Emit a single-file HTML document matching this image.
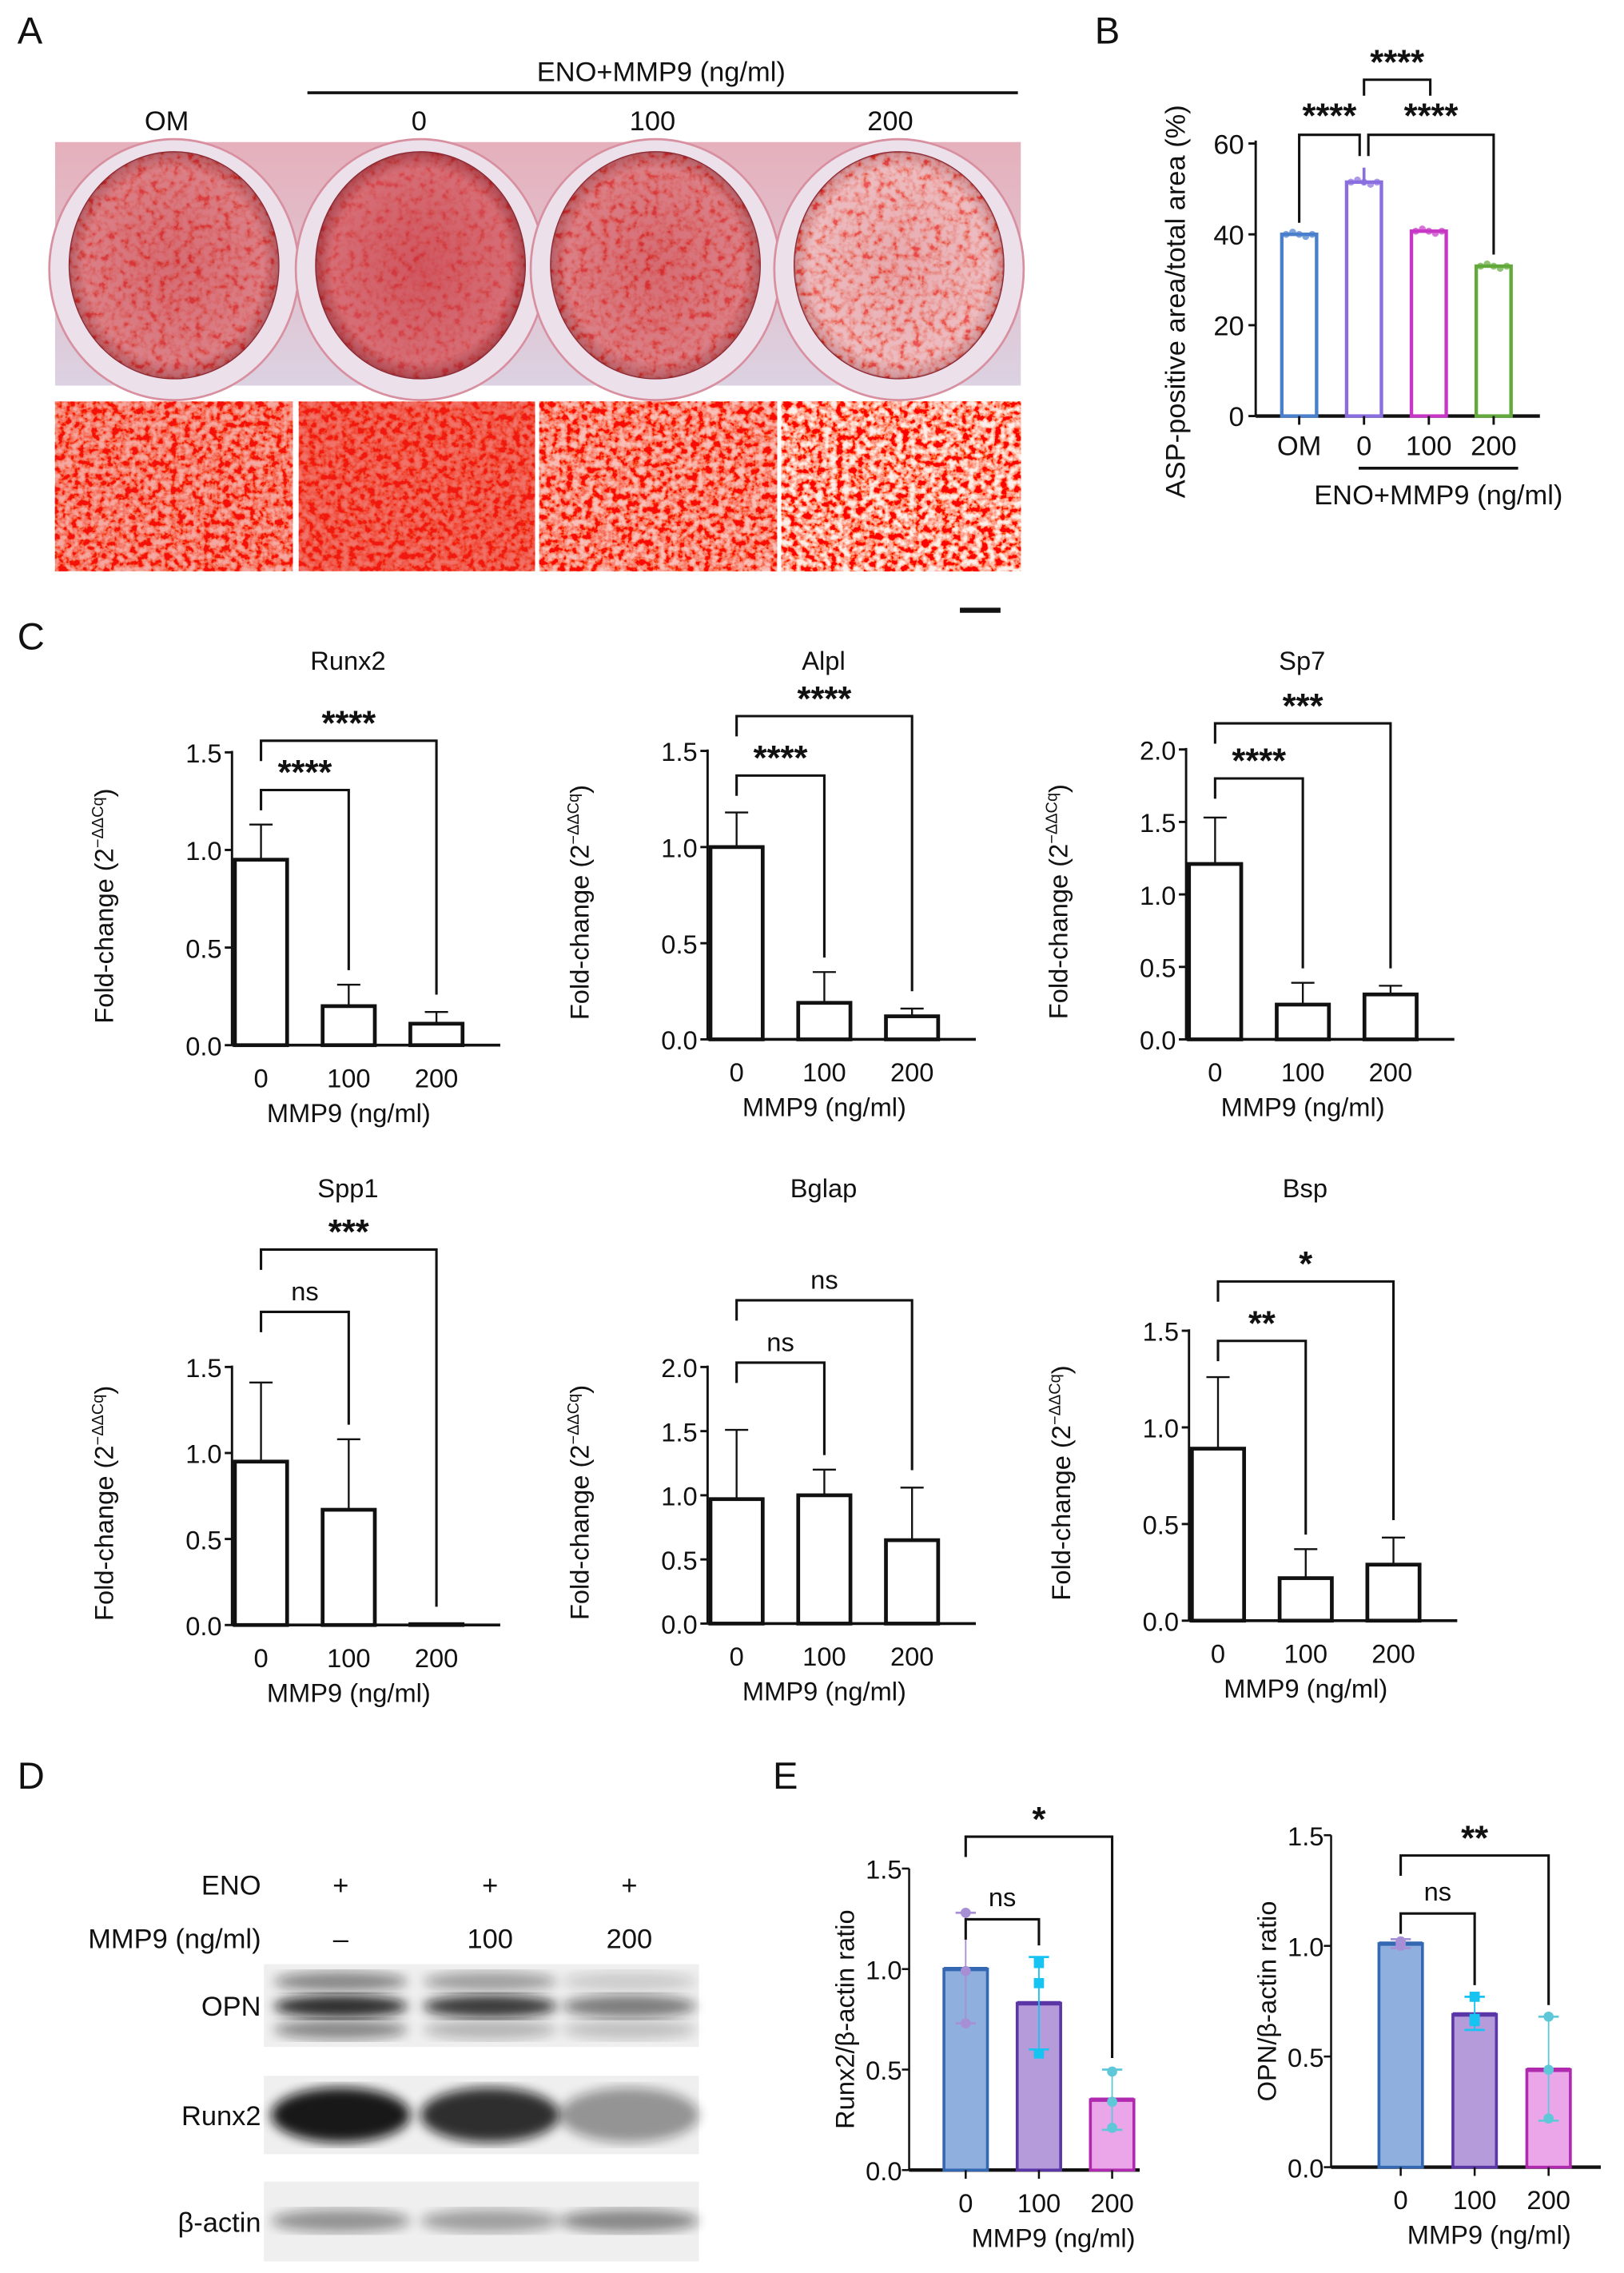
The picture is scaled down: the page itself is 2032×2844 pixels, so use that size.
<!DOCTYPE html>
<html><head><meta charset="utf-8">
<style>
html,body{margin:0;padding:0;background:#fff;}
svg{display:block;}
text{font-family:"Liberation Sans",sans-serif;fill:#111;}
</style></head>
<body>
<svg id="fig" xmlns="http://www.w3.org/2000/svg" width="2032" height="2844" viewBox="0 0 1120 1568" preserveAspectRatio="none">
<defs>
<filter id="stain" x="0" y="0" width="100%" height="100%" filterUnits="objectBoundingBox">
<feTurbulence type="fractalNoise" baseFrequency="0.22" numOctaves="3" seed="3" result="n"/>
<feColorMatrix type="matrix" values="0 0 0 0 1  0 -3 0 0 1.9  0 -3 0 0 1.8  0 0 0 0 1" in="n"/>
</filter>
<filter id="stain2" x="-20%" y="-20%" width="140%" height="140%">
<feTurbulence type="fractalNoise" baseFrequency="0.2" numOctaves="3" seed="7" result="n"/>
<feColorMatrix type="matrix" values="0 0 0 0 1  0 -3 0 0 2.2  0 -3 0 0 2.1  0 0 0 0 1" in="n"/>
</filter>
<filter id="blur2"><feGaussianBlur stdDeviation="4"/></filter>
<radialGradient id="wellg" cx="50%" cy="50%" r="50%"><stop offset="0" stop-color="#c83a45"/><stop offset="0.85" stop-color="#cf5560"/><stop offset="1" stop-color="#a02a35"/></radialGradient>
<radialGradient id="wellg4" cx="50%" cy="50%" r="50%"><stop offset="0" stop-color="#d8707a"/><stop offset="0.85" stop-color="#e0909a"/><stop offset="1" stop-color="#b04a55"/></radialGradient>
<linearGradient id="plateg" x1="0" y1="0" x2="0" y2="1"><stop offset="0" stop-color="#e5b0bb"/><stop offset="1" stop-color="#dcd2e2"/></linearGradient>
<clipPath id="cw0"><ellipse cx="120" cy="183" rx="72" ry="78"/></clipPath>
<clipPath id="cw1"><ellipse cx="290" cy="183" rx="72" ry="78"/></clipPath>
<clipPath id="cw2"><ellipse cx="452" cy="183" rx="72" ry="78"/></clipPath>
<clipPath id="cw3"><ellipse cx="620" cy="183" rx="72" ry="78"/></clipPath>
</defs>
<g id="root"></g>
</svg>
<script>
// ===== Data arrays =====
const bCategories = ["OM","0","100","200"];
const bValues = [40, 51.5, 40.7, 33];
const bTicks = [0,20,40,60];

const cCategories = ["0","100","200"];
const runx2Vals = [0.95, 0.20, 0.11];
const runx2Err  = [0.18, 0.11, 0.06];
const alplVals  = [1.00, 0.19, 0.12];
const alplErr   = [0.18, 0.16, 0.04];
const sp7Vals   = [1.21, 0.24, 0.31];
const sp7Err    = [0.32, 0.15, 0.06];
const spp1Vals  = [0.95, 0.67, 0.005];
const spp1Err   = [0.46, 0.41, 0];
const bglapVals = [0.97, 1.00, 0.65];
const bglapErr  = [0.54, 0.20, 0.41];
const bspVals   = [0.89, 0.22, 0.29];
const bspErr    = [0.37, 0.15, 0.14];
const ticks15 = [0, 0.5, 1.0, 1.5];
const ticks20 = [0, 0.5, 1.0, 1.5, 2.0];

const eRunx2Means = [1.00, 0.83, 0.35];
const eRunx2Pts = [[1.28, 0.99, 0.73],[1.03, 0.93, 0.58],[0.49, 0.34, 0.21]];
const eRunx2Lo = [0.73, 0.60, 0.20];
const eRunx2Hi = [1.28, 1.06, 0.50];
const eOpnMeans = [1.01, 0.69, 0.44];
const eOpnPts = [[1.02, 1.00, 1.01],[0.77, 0.67, 0.66],[0.68, 0.44, 0.22]];
const eOpnLo = [0.99, 0.62, 0.21];
const eOpnHi = [1.03, 0.77, 0.68];

// ===== helpers =====
const NS = "http://www.w3.org/2000/svg";
const root = document.getElementById("root");
function mk(tag, attrs, parent){
  const e = document.createElementNS(NS, tag);
  for (const k in attrs) e.setAttribute(k, attrs[k]);
  (parent||root).appendChild(e);
  return e;
}
function txt(x,y,s,size,anchor,parent,extra){
  const t = mk("text", Object.assign({x:x,y:y,"font-size":size,"text-anchor":anchor||"middle"}, extra||{}), parent);
  t.textContent = s;
  return t;
}
function line(x1,y1,x2,y2,w,col,parent){
  return mk("line",{x1:x1,y1:y1,x2:x2,y2:y2,stroke:col||"#111","stroke-width":w||1.6},parent);
}
function bracket(g,xa,xb,y,ya,yb,label,ly,size){
  const p = mk("path",{d:`M${xa},${ya} V${y} H${xb} V${yb}`,fill:"none",stroke:"#111","stroke-width":1.7},g);
  
  
  const t = txt((xa+xb)/2, ly + (label==="ns"?0:4), label, label==="ns"?18:24, "middle", g, label==="ns"?{}:{"font-weight":"bold"});
  
  
}

// ===== Panel letters =====
[["A",12,30],["B",755,30],["C",12,448],["D",12,1234],["E",533,1234]].forEach(function(a){
  const t = txt(a[1],a[2],a[0],26,"start");
  
  
});

// ===== Panel A =====
(function(){
  const g = mk("g",{});
  
  
  let t = txt(456,56,"ENO+MMP9 (ng/ml)",19,"middle",g);
  
  
  const ln = line(212,64,702,64,2,"#111",g);
  
  
  [["OM",115],["0",289],["100",450],["200",614]].forEach(function(c){
    const tt = txt(c[1],90,c[0],19,"middle",g);
    
    
  });
  const plate = mk("rect",{x:38,y:98,width:666,height:168,fill:"url(#plateg)"},g);
  
  
  const cx=[120,290,452,620];
  cx.forEach(function(x,i){
    const rim = mk("ellipse",{cx:x,cy:186,rx:86,ry:90,fill:"#ece0ea",stroke:"#d890a0","stroke-width":1.5},g);
    
    
  });
  cx.forEach(function(x,i){
    const w = mk("ellipse",{cx:x,cy:183,rx:72,ry:78,fill:i===3?"url(#wellg4)":"url(#wellg)",stroke:"#902833","stroke-width":1.4},g);
    
    
    const n = mk("rect",{x:x-74,y:103,width:148,height:160,fill:"#fff",filter:"url(#stain2)",opacity:i===3?0.4:(i===1?0.15:0.25),"clip-path":"url(#cw"+i+")"},g);
    
    
  });
  const px=[38,206,372,539], pw=[164,163,164,165];
  const ops=[0.6,0.35,0.7,0.92];
  px.forEach(function(x,i){
    const r = mk("rect",{x:x,y:277,width:pw[i],height:117,fill:"#e8261a"},g);
    
    
    const s = mk("rect",{x:x,y:277,width:pw[i],height:117,fill:"#fff",filter:"url(#stain)",opacity:ops[i]},g);
    
    
  });
  const sb = line(662,421,690,421,3.5,"#111",g);
  
  
})();

// ===== Panel B =====
(function(){
  const g = mk("g",{});
  
  
  const ax=866, y0=287, y60=99, xEnd=1062;
  const ys = v => y0 - (v/60)*(y0-y60);
  const xs = i => 896 + i*44.7;
  const cols=["#4a7fcc","#8a6ee0","#c637c6","#62a83a"];
  const ya = line(ax,y60-2,ax,y0,1.6,"#111",g);
  
  
  const xa = line(ax,y0,xEnd,y0,2.4,"#111",g);
  
  
  bTicks.forEach(function(v){
    const tk = line(ax-5,ys(v),ax,ys(v),1.6,"#111",g);
    
    
    const tl = txt(ax-8,ys(v)+7,String(v),19,"end",g);
    
    
  });
  bValues.forEach(function(v,i){
    const b = mk("rect",{x:xs(i)-12,y:ys(v),width:24,height:y0-ys(v),fill:"#fff",stroke:cols[i],"stroke-width":2.4},g);
    
    
    for(let k=-2;k<=2;k++){
      const d = mk("circle",{cx:xs(i)+k*4.5,cy:ys(v)+(k%2)*1.5,r:2.4,fill:cols[i],opacity:0.7},g);
      
      
    }
    const xt = line(xs(i),y0,xs(i),y0+6,1.6,"#111",g);
    
    
    const xl = txt(xs(i),y0+27,bCategories[i],19,"middle",g);
    
    
  });
  const eb = line(xs(1),ys(bValues[1])-10,xs(1),ys(bValues[1])+2,2,cols[1],g);
  
  
  const gl = line(937,323,1047,323,2,"#111",g);
  
  
  const gt = txt(992,348,"ENO+MMP9 (ng/ml)",19,"middle",g);
  
  
  const yt = txt(0,0,"ASP-positive area/total area (%)",19,"middle",g,{transform:"translate(817,208) rotate(-90)"});
  
  
  bracket(g,xs(0),xs(1)-3,93,ys(bValues[0])-8,ys(bValues[1])-18,"****",84,20);
  bracket(g,xs(1)+3,xs(3),93,ys(bValues[1])-18,ys(bValues[3])-8,"****",84,20);
  bracket(g,xs(1),xs(2)+1,55,66,66,"****",47,20);
})();

// ===== Panel C =====
function cChart(o){
  const g = mk("g",{});
  
  
  const ys = v => o.y0 - (v/o.max)*(o.y0-o.yTop);
  const xs = i => o.ax + 20 + i*60.5;
  const tt = txt(o.ax+80,o.titleY,o.name,18,"middle",g);
  
  
  const ya = line(o.ax,o.yTop-1,o.ax,o.y0,1.6,"#111",g);
  
  
  const xa = line(o.ax,o.y0,o.ax+185,o.y0,2,"#111",g);
  
  
  o.ticks.forEach(function(v){
    const tk = line(o.ax-5,ys(v),o.ax,ys(v),1.6,"#111",g);
    
    
    const tl = txt(o.ax-7,ys(v)+7,v.toFixed(1),18,"end",g);
    
    
  });
  o.vals.forEach(function(v,i){
    const x = xs(i);
    if (o.err[i]>0){
      const e1 = line(x,ys(v+o.err[i]),x,ys(v),1.3,"#111",g);
      
      
      const e2 = line(x-8,ys(v+o.err[i]),x+8,ys(v+o.err[i]),1.3,"#111",g);
      
      
    }
    const b = mk("rect",{x:x-18,y:ys(v),width:36,height:Math.max(0.5,o.y0-ys(v)),fill:"#fff",stroke:"#111","stroke-width":2.6},g);
    
    
    const xl = txt(x,o.y0+29,cCategories[i],18,"middle",g);
    
    
  });
  const xt = txt(xs(1),o.y0+53,"MMP9 (ng/ml)",18,"middle",g);
  
  
  const yt = mk("text",{"font-size":18,"text-anchor":"middle",transform:`translate(${o.ax-82},${(o.yTop+o.y0)/2+5}) rotate(-90)`},g);
  yt.innerHTML = 'Fold-change (2<tspan font-size="11" dy="-7">−ΔΔCq</tspan><tspan dy="7">)</tspan>';
  
  
  bracket(g,xs(0),xs(1),o.inY,o.inY+14,ys(o.vals[1]+o.err[1])-10,o.inL,o.inY-8);
  bracket(g,xs(0),xs(2),o.outY,o.outY+14,ys(o.vals[2]+o.err[2])-12,o.outL,o.outY-8);
}
cChart({name:"Runx2",ax:160,yTop:519,y0:721,max:1.5,ticks:ticks15,vals:runx2Vals,err:runx2Err,titleY:462,inY:545,inL:"****",outY:511,outL:"****"});
cChart({name:"Alpl",ax:488,yTop:518,y0:717,max:1.5,ticks:ticks15,vals:alplVals,err:alplErr,titleY:462,inY:535,inL:"****",outY:494,outL:"****"});
cChart({name:"Sp7",ax:818,yTop:517,y0:717,max:2.0,ticks:ticks20,vals:sp7Vals,err:sp7Err,titleY:462,inY:537,inL:"****",outY:499,outL:"***"});
cChart({name:"Spp1",ax:160,yTop:943,y0:1121,max:1.5,ticks:ticks15,vals:spp1Vals,err:spp1Err,titleY:826,inY:905,inL:"ns",outY:862,outL:"***"});
cChart({name:"Bglap",ax:488,yTop:943,y0:1120,max:2.0,ticks:ticks20,vals:bglapVals,err:bglapErr,titleY:826,inY:940,inL:"ns",outY:897,outL:"ns"});
cChart({name:"Bsp",ax:820,yTop:918,y0:1118,max:1.5,ticks:ticks15,vals:bspVals,err:bspErr,titleY:826,inY:925,inL:"**",outY:884,outL:"*"});

// ===== Panel D (western blot) =====
(function(){
  const g = mk("g",{});
  
  
  const lanes=[235,338,434];
  let t = txt(180,1307,"ENO",19,"end",g);
  
  
  t = txt(180,1344,"MMP9 (ng/ml)",19,"end",g);
  
  
  ["–","100","200"].forEach(function(s,i){
    const a = txt(lanes[i],1307,"+",19,"middle",g);
    
    
    const b = txt(lanes[i],1344,s,19,"middle",g);
    
    
  });
  const blots=[["OPN",1355,57],["Runx2",1432,54],["β-actin",1505,55]];
  blots.forEach(function(bl){
    const r = mk("rect",{x:182,y:bl[1],width:300,height:bl[2],fill:"#efefef"},g);
    
    
    const l = txt(180,bl[1]+bl[2]/2+7,bl[0],19,"end",g);
    
    
  });
  // OPN: three bands per lane
  const opnOps=[[0.45,0.85,0.45],[0.35,0.8,0.25],[0.15,0.5,0.2]];
  lanes.forEach(function(x,i){
    [1367,1384,1400].forEach(function(y,k){
      const b = mk("ellipse",{cx:x,cy:y,rx:46,ry:k===1?8:7,fill:"#111",opacity:opnOps[i][k],filter:"url(#blur2)"},g);
      
      
    });
  });
  const rOps=[0.95,0.85,0.4];
  lanes.forEach(function(x,i){
    const b = mk("ellipse",{cx:x,cy:1459,rx:48,ry:19,fill:"#111",opacity:rOps[i],filter:"url(#blur2)"},g);
    
    
  });
  const aOps=[0.4,0.35,0.45];
  lanes.forEach(function(x,i){
    const b = mk("ellipse",{cx:x,cy:1532,rx:48,ry:8,fill:"#111",opacity:aOps[i],filter:"url(#blur2)"},g);
    
    
  });
})();

// ===== Panel E =====
function eChart(o){
  const g = mk("g",{});
  
  
  const ys = v => o.y0 - (v/1.5)*(o.y0-o.yTop);
  const xs = i => o.x0 + i*o.dx;
  const fills=["#8fb0de","#b59bd9","#eba6ea"], strokes=["#3468b2","#5a36a6","#b02ab0"];
  const ptc=["#a78fd6","#17c3f0","#5fc8d8"];
  const ya = line(o.ax,o.yTop,o.ax,o.y0,1.4,"#111",g);
  
  
  const xa = line(o.ax,o.y0,o.xEnd,o.y0,2.4,"#111",g);
  
  
  ticks15.forEach(function(v){
    const tk = line(o.ax-5,ys(v),o.ax,ys(v),1.4,"#111",g);
    
    
    const tl = txt(o.ax-5,ys(v)+7,v.toFixed(1),18,"end",g);
    
    
  });
  o.means.forEach(function(v,i){
    const x=xs(i);
    const b = mk("rect",{x:x-15,y:ys(v),width:30,height:o.y0-ys(v),fill:fills[i],stroke:strokes[i],"stroke-width":2},g);
    
    
    const tp = line(x-15,ys(v),x+15,ys(v),3,strokes[i],g);
    
    
    const e = line(x,ys(o.hi[i]),x,ys(o.lo[i]),1,ptc[i],g);
    
    
    [o.hi[i],o.lo[i]].forEach(function(c){
      const cap = line(x-7,ys(c),x+7,ys(c),1.5,ptc[i],g);
      
      
    });
    o.pts[i].forEach(function(p){
      const d = i===1 ? mk("rect",{x:x-3.5,y:ys(p)-3.5,width:7,height:7,fill:ptc[i]},g)
                      : mk("circle",{cx:x,cy:ys(p),r:3.5,fill:ptc[i]},g);
      
      
    });
    const xt = line(x,o.y0,x,o.y0+6,1.4,"#111",g);
    
    
    const xl = txt(x,o.y0+29,cCategories[i],18,"middle",g);
    
    
  });
  const xt2 = txt(xs(1)+10,o.y0+53,"MMP9 (ng/ml)",18,"middle",g);
  
  
  const yt = txt(0,0,o.ytitle,18,"middle",g,{transform:`translate(${o.ax-38},${(o.yTop+o.y0)/2}) rotate(-90)`});
  
  
  bracket(g,xs(0),xs(1),o.inY,o.inY+14,ys(o.hi[1])-8,"ns",o.inY-9);
  bracket(g,xs(0),xs(2),o.outY,o.outY+14,ys(o.hi[2])-8,o.outL,o.outY-8);
}
eChart({name:"runx2-ratio",ax:627,yTop:1289,y0:1497,x0:666,dx:50.5,xEnd:786,means:eRunx2Means,pts:eRunx2Pts,lo:eRunx2Lo,hi:eRunx2Hi,ytitle:"Runx2/β-actin ratio",inY:1324,outY:1267,outL:"*"});
eChart({name:"opn-ratio",ax:918,yTop:1266,y0:1495,x0:966,dx:51,xEnd:1104,means:eOpnMeans,pts:eOpnPts,lo:eOpnLo,hi:eOpnHi,ytitle:"OPN/β-actin ratio",inY:1320,outY:1280,outL:"**"});
</script>
</body></html>
